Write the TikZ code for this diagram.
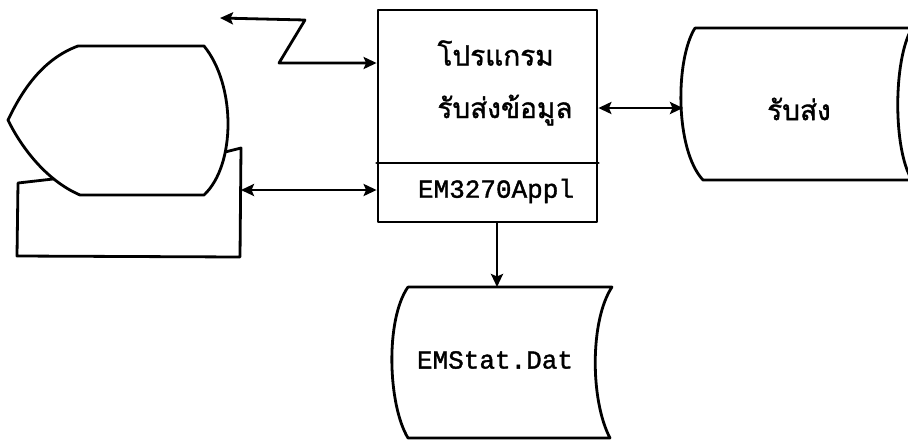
\documentclass[tikz,border=0pt]{standalone}
\usepackage{fontspec}
\newfontfamily\thaifont[Script=Thai,FakeBold=1.2]{Loma}
\newfontfamily\typefont[FakeBold=1.5]{Liberation Mono}
\usetikzlibrary{arrows.meta}
\begin{document}
\begin{tikzpicture}[x=1pt, y=-1pt, line join=round, line cap=round, line width=2.8pt,
		>={Stealth[length=13pt,width=12pt,inset=2.5pt]}]
	\tikzset{thai/.style={font=\thaifont\fontsize{28}{28}\selectfont, inner sep=0pt},
		mono/.style={font=\typefont\fontsize{26}{26}\selectfont, inner sep=0pt},
		shapeline/.style={draw=black, fill=white}}
	\clip (0,0) rectangle (908,440);
	\fill[white] (0,0) rectangle (908,440);
	% base of the terminal
	\draw[shapeline] (18,183) -- (53,179) -- (225,152) -- (241,148) -- (240,257) -- (17,256) -- cycle;
	% screen of the terminal
	\draw[shapeline] (78,46) -- (204,46) .. controls (236,85) and (236,165) .. (204,195)
		-- (80,195) .. controls (45,180) and (20,145) .. (8,120)
		.. controls (20,95) and (40,60) .. (78,46);
	\coordinate (term) at (241,190);
	% program box
	\node[draw, minimum width=219pt, minimum height=212pt, inner sep=0pt] (prog) at (487.5,116) {};
	\draw (prog.west |- 0,163) -- (prog.east |- 0,163);
	\node[thai, anchor=west] (prog1) at (436,53) {โปรแกรม};
	\node[thai, anchor=west] (prog2) at (436,110) {รับส่งข้อมูล};
	\node[mono] (appl) at (496,191) {EM3270Appl};
	% online storage
	\draw[shapeline] (695,28) -- (912,28) .. controls (893,60) and (893,150) .. (912,180)
		-- (703,180) .. controls (675,150) and (675,60) .. (695,28);
	\coordinate (link) at (683,108);
	\node[thai] (send) at (799,109) {รับส่ง};
	% data file
	\draw[shapeline] (408,287) -- (612,287) .. controls (590,320) and (590,400) .. (610,438)
		-- (408,438) .. controls (388,405) and (385,320) .. (408,287);
	\coordinate (stat) at (497,287);
	\node[mono] (dat) at (495,360) {EMStat.Dat};
	% connectors
	\coordinate (zl) at (220,18);
	\coordinate (zk) at (279,63);
	\draw[<->] (zl) -- (305,20) -- (zk) -- (zk -| prog.west);
	\draw[<->] (term) -- (term -| prog.west);
	\draw[<->] (link -| prog.east) -- (link);
	\draw[->] (stat |- prog.south) -- (stat);
\end{tikzpicture}
\end{document}
